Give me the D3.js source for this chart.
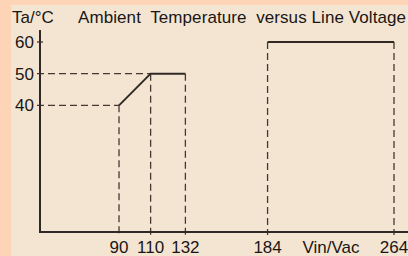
<!DOCTYPE html>
<html>
<head>
<meta charset="utf-8">
<script src="https://cdn.jsdelivr.net/npm/d3@7"></script>
<style>
  body { margin: 0; background: #fdd4b6; }
  svg { display: block; }
  text { font-family: "Liberation Sans", Arial, sans-serif; fill: #1a1614; }
</style>
</head>
<body>
<svg id="chart" width="408" height="256"></svg>
<script>
// derating curve, low line range
var lowVolts = [90, 110, 132];
var lowTemps = [40, 50, 50];
// high line range
var highVolts = [184, 264];
var highTemps = [60, 60];
// axis labels
var voltTicks = [90, 110, 132, 184, 264];
var tempTicks = [40, 50, 60];

var w = 408, h = 256;
var svg = d3.select("#chart");

// panel background
svg.append("rect")
    .attr("x", 11).attr("y", 5)
    .attr("width", w - 11).attr("height", h - 5)
    .attr("fill", "#f4e5d3");

var x = d3.scaleLinear().domain([40, 264]).range([40, 394]);
var y = d3.scaleLinear().domain([0, 60]).range([232, 42]);

var ink = "#2f2926";
var dash = "#433934";

// dashed guides
var guides = svg.append("g")
    .attr("stroke", dash)
    .attr("stroke-width", 1.3)
    .attr("stroke-dasharray", "7,4")
    .attr("fill", "none");

var allVolts = lowVolts.concat(highVolts);
var allTemps = lowTemps.concat(highTemps);

guides.selectAll("line.v")
    .data(allVolts)
    .enter()
    .append("line")
    .attr("class", "v")
    .attr("x1", function(d) { return x(d); })
    .attr("x2", function(d) { return x(d); })
    .attr("y1", function(d, i) { return y(allTemps[i]); })
    .attr("y2", y(0) + 3);

// horizontal guides for the sloped part
guides.selectAll("line.h")
    .data([0, 1])
    .enter()
    .append("line")
    .attr("class", "h")
    .attr("x1", x(40) - 3)
    .attr("x2", function(i) { return x(lowVolts[i]); })
    .attr("y1", function(i) { return y(lowTemps[i]); })
    .attr("y2", function(i) { return y(lowTemps[i]); });

// curves
var line = d3.line()
    .x(function(d) { return x(d[0]); })
    .y(function(d) { return y(d[1]); });

svg.append("path")
    .datum(d3.zip(lowVolts, lowTemps))
    .attr("d", line)
    .attr("fill", "none")
    .attr("stroke", ink)
    .attr("stroke-width", 2);

svg.append("path")
    .datum(d3.zip(highVolts, highTemps))
    .attr("d", line)
    .attr("fill", "none")
    .attr("stroke", ink)
    .attr("stroke-width", 2);

// axes
svg.append("line")
    .attr("x1", x(40)).attr("x2", x(40))
    .attr("y1", 30).attr("y2", y(0) + 1)
    .attr("stroke", ink).attr("stroke-width", 2);

svg.append("line")
    .attr("x1", x(40) - 1).attr("x2", w)
    .attr("y1", y(0)).attr("y2", y(0))
    .attr("stroke", ink).attr("stroke-width", 2);

// y tick at 60
svg.append("line")
    .attr("x1", x(40) - 3).attr("x2", x(40) + 3)
    .attr("y1", y(60)).attr("y2", y(60))
    .attr("stroke", ink).attr("stroke-width", 1.2);

svg.selectAll("text.yl")
    .data(tempTicks)
    .enter()
    .append("text")
    .attr("class", "yl")
    .attr("x", 34)
    .attr("y", function(d) { return y(d) + 6; })
    .attr("text-anchor", "end")
    .attr("font-size", 17)
    .text(function(d) { return d; });

svg.selectAll("text.xl")
    .data(voltTicks)
    .enter()
    .append("text")
    .attr("class", "xl")
    .attr("x", function(d) { return x(d); })
    .attr("y", 253)
    .attr("text-anchor", "middle")
    .attr("font-size", 17)
    .text(function(d) { return d; });

svg.append("text")
    .attr("x", 331).attr("y", 253)
    .attr("text-anchor", "middle")
    .attr("font-size", 17)
    .text("Vin/Vac");

svg.append("text")
    .attr("x", 12).attr("y", 23)
    .attr("font-size", 17)
    .text("Ta/°C");

svg.append("text")
    .attr("x", 78).attr("y", 23)
    .attr("font-size", 17)
    .attr("textLength", 328)
    .style("white-space", "pre")
    .text("Ambient  Temperature  versus Line Voltage");
</script>
</body>
</html>
